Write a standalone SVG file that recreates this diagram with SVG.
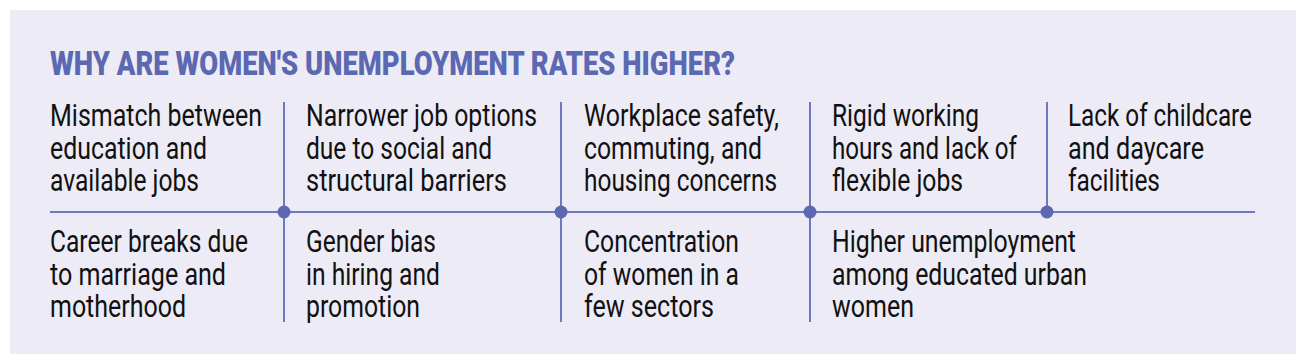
<svg xmlns="http://www.w3.org/2000/svg" width="1306" height="364" viewBox="0 0 1306 364">
<style>
.bg{fill:#EDEBF6}
.title{font-family:Roboto,"Liberation Sans",sans-serif;font-weight:900;font-size:33px;fill:#5B68B2}
.t{font-family:Roboto,"Liberation Sans",sans-serif;font-weight:400;font-size:30.5px;fill:#111111}
.ln{stroke:#6E79BF;stroke-width:2;fill:none}
.dot{fill:#5C68B0}
</style>
<rect class="bg" x="10" y="10" width="1286" height="344"/>
<text class="title" x="50" y="74.5" textLength="685" lengthAdjust="spacingAndGlyphs">WHY ARE WOMEN'S UNEMPLOYMENT RATES HIGHER?</text>
<g id="connectors">
<line class="ln" x1="50" y1="212" x2="1255" y2="212"/>
<line class="ln" x1="284" y1="102" x2="284" y2="322"/>
<line class="ln" x1="561" y1="102" x2="561" y2="322"/>
<line class="ln" x1="810" y1="102" x2="810" y2="322"/>
<line class="ln" x1="1047" y1="102" x2="1047" y2="212"/>
<circle class="dot" cx="284" cy="212" r="6.5"/>
<circle class="dot" cx="561" cy="212" r="6.5"/>
<circle class="dot" cx="810" cy="212" r="6.5"/>
<circle class="dot" cx="1047" cy="212" r="6.5"/>
</g>
<g id="n1">
<text class="t" x="50" y="126" textLength="212" lengthAdjust="spacingAndGlyphs">Mismatch between</text>
<text class="t" x="50" y="158.5" textLength="157" lengthAdjust="spacingAndGlyphs">education and</text>
<text class="t" x="50" y="191" textLength="149" lengthAdjust="spacingAndGlyphs">available jobs</text>
</g>
<g id="n2">
<text class="t" x="306" y="126" textLength="231" lengthAdjust="spacingAndGlyphs">Narrower job options</text>
<text class="t" x="306" y="158.5" textLength="186" lengthAdjust="spacingAndGlyphs">due to social and</text>
<text class="t" x="306" y="191" textLength="201" lengthAdjust="spacingAndGlyphs">structural barriers</text>
</g>
<g id="n3">
<text class="t" x="584" y="126" textLength="195" lengthAdjust="spacingAndGlyphs">Workplace safety,</text>
<text class="t" x="584" y="158.5" textLength="178" lengthAdjust="spacingAndGlyphs">commuting, and</text>
<text class="t" x="584" y="191" textLength="193" lengthAdjust="spacingAndGlyphs">housing concerns</text>
</g>
<g id="n4">
<text class="t" x="832" y="126" textLength="147" lengthAdjust="spacingAndGlyphs">Rigid working</text>
<text class="t" x="832" y="158.5" textLength="185" lengthAdjust="spacingAndGlyphs">hours and lack of</text>
<text class="t" x="832" y="191" textLength="131" lengthAdjust="spacingAndGlyphs">flexible jobs</text>
</g>
<g id="n5">
<text class="t" x="1068" y="126" textLength="184" lengthAdjust="spacingAndGlyphs">Lack of childcare</text>
<text class="t" x="1068" y="158.5" textLength="136" lengthAdjust="spacingAndGlyphs">and daycare</text>
<text class="t" x="1068" y="191" textLength="92" lengthAdjust="spacingAndGlyphs">facilities</text>
</g>
<g id="n6">
<text class="t" x="50" y="252" textLength="198" lengthAdjust="spacingAndGlyphs">Career breaks due</text>
<text class="t" x="50" y="284.5" textLength="176" lengthAdjust="spacingAndGlyphs">to marriage and</text>
<text class="t" x="50" y="317" textLength="136" lengthAdjust="spacingAndGlyphs">motherhood</text>
</g>
<g id="n7">
<text class="t" x="306" y="252" textLength="130" lengthAdjust="spacingAndGlyphs">Gender bias</text>
<text class="t" x="306" y="284.5" textLength="134" lengthAdjust="spacingAndGlyphs">in hiring and</text>
<text class="t" x="306" y="317" textLength="114" lengthAdjust="spacingAndGlyphs">promotion</text>
</g>
<g id="n8">
<text class="t" x="584" y="252" textLength="155" lengthAdjust="spacingAndGlyphs">Concentration</text>
<text class="t" x="584" y="284.5" textLength="155" lengthAdjust="spacingAndGlyphs">of women in a</text>
<text class="t" x="584" y="317" textLength="130" lengthAdjust="spacingAndGlyphs">few sectors</text>
</g>
<g id="n9">
<text class="t" x="832" y="252" textLength="244" lengthAdjust="spacingAndGlyphs">Higher unemployment</text>
<text class="t" x="832" y="284.5" textLength="255" lengthAdjust="spacingAndGlyphs">among educated urban</text>
<text class="t" x="832" y="317" textLength="82" lengthAdjust="spacingAndGlyphs">women</text>
</g>
</svg>
